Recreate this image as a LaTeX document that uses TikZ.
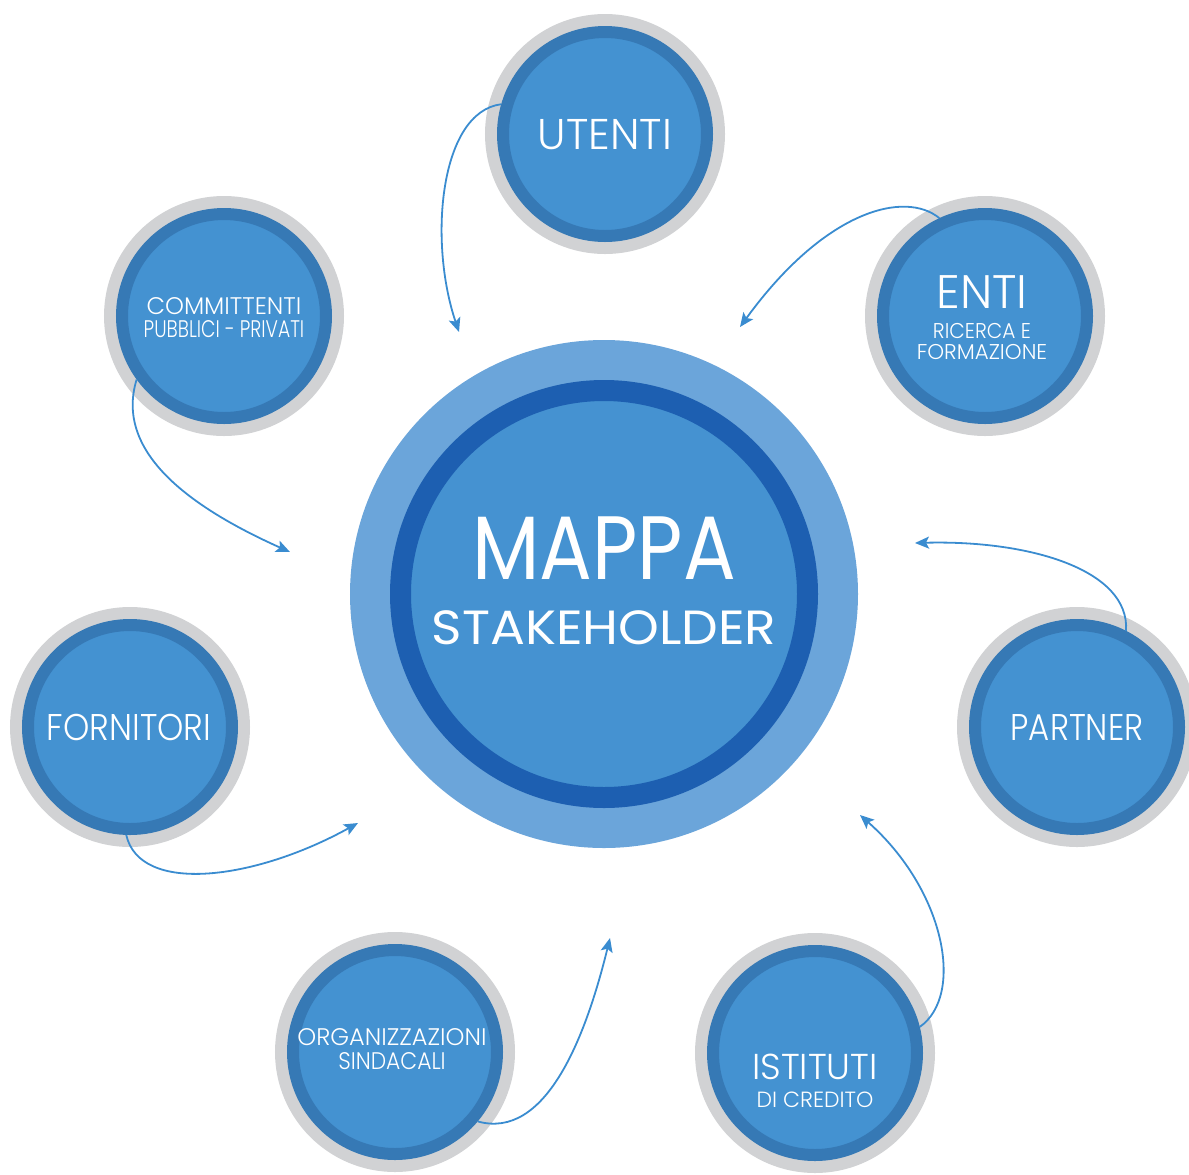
\documentclass[tikz,border=0pt]{standalone}
\usepackage{fontspec}
\setmainfont{Poppins}
\newfontfamily\thinfont{Poppins Light}
\usetikzlibrary{arrows.meta}

\definecolor{ringgray}{HTML}{D1D2D4}
\definecolor{satring}{HTML}{3679B5}
\definecolor{satfill}{HTML}{4492D1}
\definecolor{mapring}{HTML}{6BA5DA}
\definecolor{mapdark}{HTML}{1D5FB1}
\definecolor{mapfill}{HTML}{4592D1}
\definecolor{arrowblue}{HTML}{3A8CD0}

\begin{document}
\begin{tikzpicture}[x=0.5pt, y=-0.5pt,
  stake/.style={circle, inner sep=0pt, minimum size=102pt, fill=satfill,
    draw=satring, line width=6pt, preaction={draw=ringgray, line width=18pt}},
  satlabel/.style={text=white, inner sep=0pt},
  flow/.style={draw=arrowblue, line width=0.9pt, -{Stealth[length=7pt, width=6pt, inset=1.5pt]}}]
  \clip (0,0) rectangle (1189,1174);

  \node [circle, inner sep=0pt, minimum size=203.5pt, fill=mapfill, draw=mapdark,
         line width=10.5pt, preaction={draw=mapring, line width=50.5pt}] (map) at (604,594) {};
  \node [text=white, inner sep=0pt, font=\fontsize{45}{45}\selectfont] (mappa) at (604,548) {\scalebox{0.87}[1]{MAPPA}};
  \node [text=white, inner sep=0pt, font=\fontsize{24}{24}\selectfont] (stk) at (604,628) {\scalebox{1.08}[1]{STAKEHOLDER}};

  \node [stake] (ut) at (605,134) {};
  \node [stake] (en) at (985,316) {};
  \node [stake] (com) at (224,316) {};
  \node [stake] (forn) at (130,727) {};
  \node [stake] (par) at (1077,727) {};
  \node [stake] (org) at (395,1052) {};
  \node [stake] (ist) at (815,1053) {};

  \node [satlabel, font=\thinfont\fontsize{21.5}{21.5}\selectfont] (ut-t) at (605,135) {UTENTI};
  \node [satlabel, font=\thinfont\fontsize{23.5}{23.5}\selectfont] (en-t) at (982,292) {ENTI};
  \node [satlabel, font=\thinfont\fontsize{10.7}{10.7}\selectfont] (en-a) at (982,331) {\scalebox{0.94}[1]{RICERCA E}};
  \node [satlabel, font=\thinfont\fontsize{10.7}{10.7}\selectfont] (en-b) at (982,352) {FORMAZIONE};
  \node [satlabel, font=\thinfont\fontsize{12}{12}\selectfont] (com-a) at (224,306) {COMMITTENTI};
  \node [satlabel, font=\thinfont\fontsize{12}{12}\selectfont] (com-b) at (224,329) {\scalebox{0.78}[1]{PUBBLICI - PRIVATI}};
  \node [satlabel, font=\thinfont\fontsize{18.6}{18.6}\selectfont] (forn-t) at (129,727) {\scalebox{0.9}[1]{FORNITORI}};
  \node [satlabel, font=\thinfont\fontsize{18.6}{18.6}\selectfont] (par-t) at (1077,727) {\scalebox{0.87}[1]{PARTNER}};
  \node [satlabel, font=\thinfont\fontsize{12}{12}\selectfont] (org-a) at (392,1037) {ORGANIZZAZIONI};
  \node [satlabel, font=\thinfont\fontsize{12}{12}\selectfont] (org-b) at (392,1061) {\scalebox{0.91}[1]{SINDACALI}};
  \node [satlabel, font=\thinfont\fontsize{18}{18}\selectfont] (ist-a) at (815,1067) {ISTITUTI};
  \node [satlabel, font=\thinfont\fontsize{11}{11}\selectfont] (ist-b) at (815,1100) {DI CREDITO};

  \coordinate (tipU) at (459,332);
  \coordinate (tipE) at (740,327);
  \coordinate (tipC) at (290,552);
  \coordinate (tipP) at (915,543);
  \coordinate (tipF) at (358,823);
  \coordinate (tipO) at (610,938);
  \coordinate (tipI) at (860,815);

  \draw [flow] (ut.164) .. controls (440,112) and (428,240) .. (tipU);
  \draw [flow] (en.115) .. controls (905,190) and (825,210) .. (tipE);
  \draw [flow] (com.216) .. controls (115,450) and (185,505) .. (tipC);
  \draw [flow] (par.63) .. controls (1130,570) and (1030,540) .. (tipP);
  \draw [flow] (forn.268) .. controls (140,895) and (255,880) .. (tipF);
  \draw [flow] (org.320) .. controls (545,1140) and (585,1040) .. (tipO);
  \draw [flow] (ist.14) .. controls (965,995) and (945,890) .. (tipI);
\end{tikzpicture}
\end{document}
